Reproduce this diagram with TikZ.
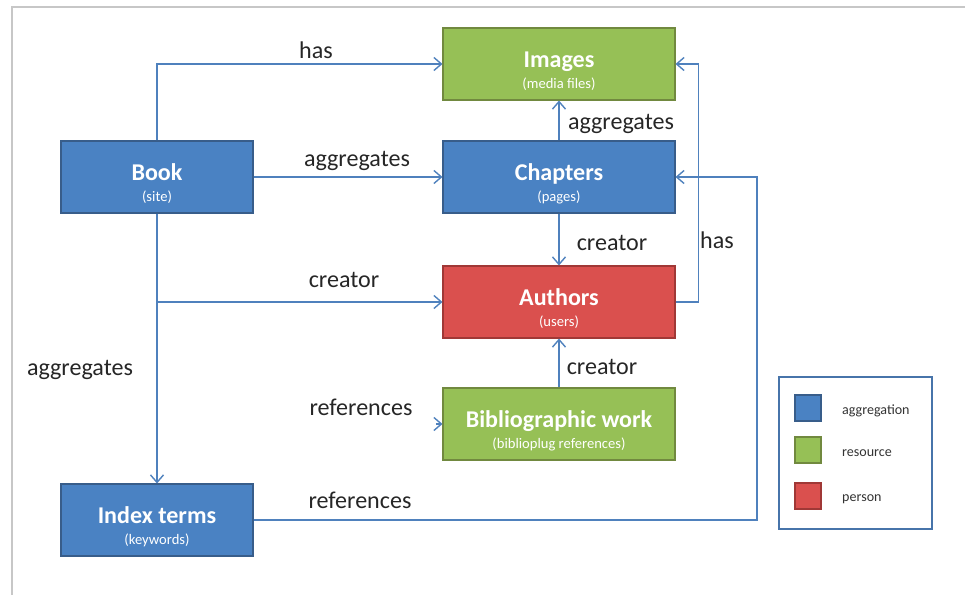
\documentclass[tikz,border=0pt]{standalone}
\usepackage{fontspec}
\setmainfont{Carlito}
\usetikzlibrary{arrows.meta}
\definecolor{aggblue}{RGB}{74,130,195}
\definecolor{aggline}{RGB}{56,93,138}
\definecolor{resgreen}{RGB}{150,192,86}
\definecolor{resline}{RGB}{113,137,63}
\definecolor{perred}{RGB}{218,80,78}
\definecolor{perline}{RGB}{160,56,54}
\definecolor{linkblue}{RGB}{79,129,189}
\begin{document}
\begin{tikzpicture}[x=0.02cm,y=-0.02cm,
  box/.style={minimum height=1.44cm, inner sep=0pt, align=center, text=white,
    font=\fontsize{13.7}{12}\selectfont\bfseries, line width=0.6pt},
  aggbox/.style={box, fill=aggblue, draw=aggline},
  resbox/.style={box, fill=resgreen, draw=resline},
  perbox/.style={box, fill=perred, draw=perline},
  wide/.style={minimum width=4.64cm},
  narrow/.style={minimum width=3.84cm},
  lbl/.style={font=\fontsize{13.7}{16}\selectfont, text=black!85},
  arr/.style={draw=linkblue, line width=0.8pt, -{Straight Barb[length=1.5mm,width=2.6mm]}},
  key/.style={minimum size=0.52cm, inner sep=0pt, line width=0.6pt},
  keytext/.style={anchor=west, font=\fontsize{8}{9}\selectfont, text=black!80}]
\useasboundingbox (0,0) rectangle (965,595);
\newcommand{\boxtext}[2]{\rule{0pt}{17pt}#1\\ {\fontsize{8.3}{9}\selectfont\mdseries #2}}
% frame
\draw[black!22, line width=1.2pt] (965,7) -- (12,7) -- (12,595);
% boxes
\node[resbox, wide] (images) at (559,64) {\boxtext{Images}{(media files)}};
\node[aggbox, wide] (chapters) at (559,177) {\boxtext{Chapters}{(pages)}};
\node[perbox, wide] (authors) at (559,302) {\boxtext{Authors}{(users)}};
\node[resbox, wide] (bib) at (559,424) {\boxtext{Bibliographic work}{(biblioplug references)}};
\node[aggbox, narrow] (book) at (157,177) {\boxtext{Book}{(site)}};
\node[aggbox, narrow] (index) at (157,520) {\boxtext{Index terms}{(keywords)}};
% links
\coordinate (bibin) at (436,424);
\coordinate (refx) at (757,0);
\draw[arr] (book.north) |- (images.west);
\draw[arr] (book.east) -- (chapters.west);
\draw[arr] (book.south) -- (index.north);
\draw[arr] (book.south |- authors.west) -- (authors.west);
\draw[arr] (chapters.north) -- (images.south);
\draw[arr] (chapters.south) -- (authors.north);
\draw[arr] (bib.north) -- (authors.south);
\draw[arr] (authors.east) -- ++(23,0) |- (images.east);
\draw[arr] (index.east) -| (refx |- chapters.east) -- (chapters.east);
\draw[arr] (bibin) -- (bib.west);
% labels
\node[lbl] (hasa) at (316,50) {has};
\node[lbl] (agga) at (357,161) {aggregates};
\node[lbl] (crea) at (344,280) {creator};
\node[lbl] (aggb) at (80,370) {aggregates};
\node[lbl] (refa) at (361,407) {references};
\node[lbl] (refb) at (360,500) {references};
\node[lbl] (aggc) at (621,124) {aggregates};
\node[lbl] (creb) at (612,243) {creator};
\node[lbl] (crec) at (602,367) {creator};
\node[lbl] (hasb) at (717,240) {has};
% legend
\draw[linkblue!90!black, line width=1pt] (779,377) rectangle (932,529);
\node[key, fill=aggblue, draw=aggline] (kagg) at (808,408) {};
\node[key, fill=resgreen, draw=resline] (kres) at (808,450) {};
\node[key, fill=perred, draw=perline] (kper) at (808,496) {};
\node[keytext] (tagg) at (836,411) {aggregation};
\node[keytext] (tres) at (836,453) {resource};
\node[keytext] (tper) at (836,499) {person};
\end{tikzpicture}
\end{document}
